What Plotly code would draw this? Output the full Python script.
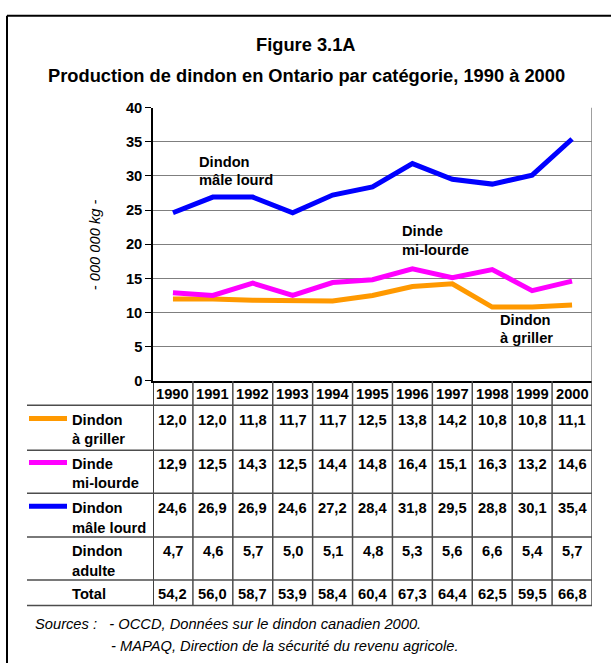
import plotly.graph_objects as go

# Production de dindon en Ontario (millions de kg)
years = [1990, 1991, 1992, 1993, 1994, 1995, 1996, 1997, 1998, 1999, 2000]
dindon_griller = [12.0, 12.0, 11.8, 11.7, 11.7, 12.5, 13.8, 14.2, 10.8, 10.8, 11.1]
dinde_mi_lourde = [12.9, 12.5, 14.3, 12.5, 14.4, 14.8, 16.4, 15.1, 16.3, 13.2, 14.6]
dindon_male_lourd = [24.6, 26.9, 26.9, 24.6, 27.2, 28.4, 31.8, 29.5, 28.8, 30.1, 35.4]
dindon_adulte = [4.7, 4.6, 5.7, 5.0, 5.1, 4.8, 5.3, 5.6, 6.6, 5.4, 5.7]
total = [54.2, 56.0, 58.7, 53.9, 58.4, 60.4, 67.3, 64.4, 62.5, 59.5, 66.8]

y_ticks = [0, 5, 10, 15, 20, 25, 30, 35, 40]

W, H = 611, 671
PX_LEFT, PX_RIGHT = 153, 592
PX_TOP, PX_BOTTOM = 102, 382

FONT = "Arial, Liberation Sans, sans-serif"
GRID = "#7f7f7f"
TABLE_LINE = "#4d4d4d"
TXT = 14.7


def pxx(p):
    return p / W


def pxy(p):
    return 1 - p / H


def fmt(v):
    return f"{v:.1f}".replace(".", ",")


x_lo, x_hi = years[0] - 0.5, years[-1] + 0.5

fig = go.Figure()

series = [
    ("Dindon à griller", dindon_griller, "#FF9900"),
    ("Dinde mi-lourde", dinde_mi_lourde, "#FF00FF"),
    ("Dindon mâle lourd", dindon_male_lourd, "#0000FF"),
]
for name, vals, color in series:
    fig.add_trace(go.Scatter(
        x=years, y=vals, mode="lines", name=name,
        line=dict(color=color, width=5), hoverinfo="x+y",
    ))

shapes = []
annotations = []

# outer frame (left and top edges)
shapes.append(dict(type="line", xref="paper", yref="paper",
                   x0=pxx(7), x1=pxx(7), y0=pxy(8), y1=0,
                   line=dict(color="black", width=2)))
shapes.append(dict(type="line", xref="paper", yref="paper",
                   x0=pxx(7), x1=1, y0=pxy(8), y1=pxy(8),
                   line=dict(color="black", width=2)))

# plot area right border
shapes.append(dict(type="line", xref="x", yref="y",
                   x0=x_hi, x1=x_hi, y0=0, y1=40,
                   line=dict(color=GRID, width=1.5)))

# data table rows: (label lines, values, swatch colour, y of first text line, y of second line)
TABLE_TOP = PX_BOTTOM
YEAR_ROW_Y = 395
row_lines = [407, 453, 497, 542, 586, 612]
rows = [
    (["Dindon", "à griller"], dindon_griller, "#FF9900", 422, 442),
    (["Dinde", "mi-lourde"], dinde_mi_lourde, "#FF00FF", 467, 487),
    (["Dindon", "mâle lourd"], dindon_male_lourd, "#0000FF", 512, 533),
    (["Dindon", "adulte"], dindon_adulte, None, 556, 577),
    (["Total"], total, None, 600, None),
]

# table grid
for i in range(len(years) + 1):
    xv = x_lo + i
    shapes.append(dict(type="line", xref="x", yref="paper",
                       x0=xv, x1=xv, y0=pxy(TABLE_TOP), y1=pxy(row_lines[-1]),
                       line=dict(color="black" if i == 0 else TABLE_LINE, width=1.5)))
for ly in row_lines:
    shapes.append(dict(type="line", xref="paper", yref="paper",
                       x0=pxx(27), x1=pxx(PX_RIGHT), y0=pxy(ly), y1=pxy(ly),
                       line=dict(color=TABLE_LINE, width=1.5)))

cell_font = dict(family=FONT, size=TXT, color="black", weight="bold")

for yr in years:
    annotations.append(dict(x=yr, xref="x", y=pxy(YEAR_ROW_Y), yref="paper",
                            text=str(yr), showarrow=False, font=cell_font,
                            xanchor="center", yanchor="middle"))

for labels, vals, color, y1, y2 in rows:
    annotations.append(dict(x=pxx(70), xref="paper", y=pxy(y1), yref="paper",
                            text=labels[0], showarrow=False, font=cell_font,
                            xanchor="left", yanchor="middle"))
    if len(labels) > 1:
        annotations.append(dict(x=pxx(70), xref="paper", y=pxy(y2), yref="paper",
                                text=labels[1], showarrow=False, font=cell_font,
                                xanchor="left", yanchor="middle"))
    if color:
        shapes.append(dict(type="line", xref="paper", yref="paper",
                           x0=pxx(29), x1=pxx(67), y0=pxy(y1 - 1.5), y1=pxy(y1 - 1.5),
                           line=dict(color=color, width=5)))
    for yr, v in zip(years, vals):
        annotations.append(dict(x=yr, xref="x", y=pxy(y1), yref="paper",
                                text=fmt(v), showarrow=False, font=cell_font,
                                xanchor="center", yanchor="middle"))

# series labels inside the chart
line_labels = [
    ("Dindon", "mâle lourd", 1990.6, 32.1, 29.4),
    ("Dinde", "mi-lourde", 1995.7, 21.9, 19.1),
    ("Dindon", "à griller", 1998.15, 8.85, 6.3),
]
for l1, l2, xv, ya, yb in line_labels:
    for txt, yv in ((l1, ya), (l2, yb)):
        annotations.append(dict(x=xv, xref="x", y=yv, yref="y", text=txt,
                                showarrow=False, font=cell_font,
                                xanchor="left", yanchor="middle"))

# titles
title_font = dict(family=FONT, size=18.3, color="black", weight="bold")
annotations.append(dict(x=pxx(306), xref="paper", y=pxy(37), yref="paper",
                        text="Figure 3.1A", showarrow=False, font=title_font,
                        xanchor="center", yanchor="middle"))
annotations.append(dict(x=pxx(306), xref="paper", y=pxy(69), yref="paper",
                        text="Production de dindon en Ontario par catégorie, 1990 à 2000",
                        showarrow=False, font=title_font,
                        xanchor="center", yanchor="middle"))

# y-axis unit
annotations.append(dict(x=pxx(95), xref="paper", y=pxy(243), yref="paper",
                        text="- 000 000 kg -", showarrow=False, textangle=-90,
                        font=dict(family=FONT, size=TXT, color="black", style="italic"),
                        xanchor="center", yanchor="middle"))

# sources
src_font = dict(family=FONT, size=TXT, color="black", style="italic")
annotations.append(dict(x=pxx(33), xref="paper", y=pxy(631), yref="paper",
                        text="Sources :   - OCCD, Données sur le dindon canadien 2000.",
                        showarrow=False, font=src_font, xanchor="left", yanchor="middle"))
annotations.append(dict(x=pxx(109), xref="paper", y=pxy(654), yref="paper",
                        text="- MAPAQ, Direction de la sécurité du revenu agricole.",
                        showarrow=False, font=src_font, xanchor="left", yanchor="middle"))

fig.update_layout(
    width=W, height=H,
    margin=dict(l=0, r=0, t=0, b=0),
    paper_bgcolor="white", plot_bgcolor="white",
    showlegend=False,
    xaxis=dict(
        domain=[pxx(PX_LEFT), pxx(PX_RIGHT)],
        range=[x_lo, x_hi], showticklabels=False, ticks="",
        showgrid=False, zeroline=False,
        showline=True, linecolor="black", linewidth=1.5,
    ),
    yaxis=dict(
        domain=[pxy(PX_BOTTOM), pxy(PX_TOP)],
        range=[0, 40], tickvals=y_ticks,
        ticks="outside", ticklen=6, tickcolor="black", tickwidth=1,
        tickfont=dict(family=FONT, size=TXT, color="black", weight="bold"),
        showgrid=True, gridcolor=GRID, gridwidth=1.2,
        zeroline=False, showline=True, linecolor="black", linewidth=1.5,
    ),
    shapes=shapes,
    annotations=annotations,
)

fig.write_html("out.html")
